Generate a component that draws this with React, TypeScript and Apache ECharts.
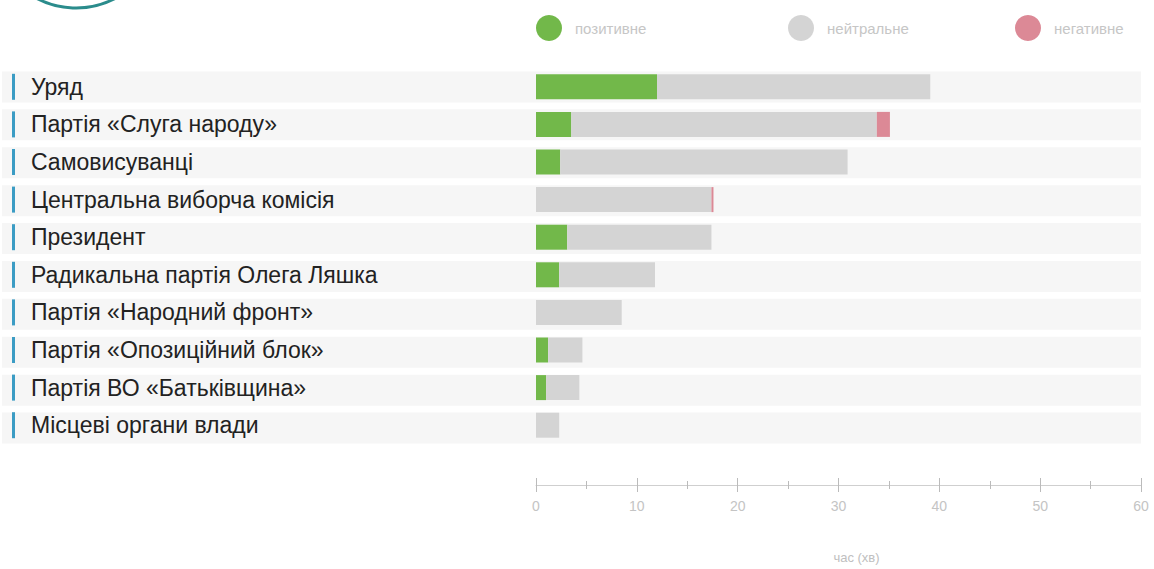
import React, { useEffect, useRef } from "react";
import * as echarts from "echarts";

const categories: string[] = [
  "Уряд",
  "Партія «Слуга народу»",
  "Самовисуванці",
  "Центральна виборча комісія",
  "Президент",
  "Радикальна партія Олега Ляшка",
  "Партія «Народний фронт»",
  "Партія «Опозиційний блок»",
  "Партія ВО «Батьківщина»",
  "Місцеві органи влади",
];

const positive: number[] = [12.0, 3.5, 2.4, 0, 3.1, 2.3, 0, 1.2, 1.0, 0];
const neutral: number[] = [27.1, 30.3, 28.5, 17.4, 14.3, 9.5, 8.5, 3.4, 3.3, 2.3];
const negative: number[] = [0, 1.3, 0, 0.2, 0, 0, 0, 0, 0, 0];
const bandValues: number[] = [1, 1, 1, 1, 1, 1, 1, 1, 1, 1];

const seriesNames: string[] = ["позитивне", "нейтральне", "негативне"];
const colors: string[] = ["#72b84a", "#d4d4d4", "#dc8996"];

const axisMin = 0;
const axisMax = 60;
const axisInterval = 10;
const axisName = "час (хв)";

export default function App() {
  const ref = useRef<HTMLDivElement>(null);

  useEffect(() => {
    if (!ref.current) return;
    const chart = echarts.init(ref.current, null, { renderer: "svg" });
    const font = "Liberation Sans, Arial, sans-serif";
    const legendBase = {
      top: 15,
      padding: 0,
      icon: "circle",
      itemWidth: 26,
      itemHeight: 26,
      itemGap: 0,
      selectedMode: false,
      textStyle: { color: "#c6c6c6", fontSize: 15, fontFamily: font, padding: [0, 0, 0, 8] },
    };
    const xBase = {
      type: "value",
      gridIndex: 0,
      position: "bottom",
      min: axisMin,
      max: axisMax,
      interval: axisInterval,
      offset: 41,
      splitLine: { show: false },
    };
    chart.setOption({
      animation: false,
      backgroundColor: "#ffffff",
      textStyle: { fontFamily: font },
      graphic: [
        {
          type: "circle",
          shape: { cx: 76, cy: -77, r: 85 },
          style: { fill: "none", stroke: "#2b8c8c", lineWidth: 3 },
        },
      ],
      legend: [
        { ...legendBase, left: 536, data: [seriesNames[0]] },
        { ...legendBase, left: 788, data: [seriesNames[1]] },
        { ...legendBase, left: 1015, data: [seriesNames[2]] },
      ],
      grid: [
        { left: 536, right: 13, top: 68, bottom: 122 },
        { left: 2, right: 13, top: 68, bottom: 122 },
      ],
      xAxis: [
        {
          ...xBase,
          axisLine: { show: true, lineStyle: { color: "#cfcfcf", width: 1 } },
          axisTick: { show: true, length: 7, lineStyle: { color: "#bbbbbb" } },
          minorTick: { show: true, splitNumber: 2, length: 4, lineStyle: { color: "#bbbbbb" } },
          axisLabel: { color: "#c4c4c4", fontSize: 14, margin: 14, fontFamily: font },
          name: axisName,
          nameLocation: "middle",
          nameGap: 66,
          nameTextStyle: { color: "#c0c0c0", fontSize: 13, fontFamily: font, padding: [0, 0, 0, 36] },
        },
        {
          ...xBase,
          axisLine: { show: false },
          axisTick: { show: true, inside: true, length: 7, lineStyle: { color: "#bbbbbb" } },
          minorTick: { show: true, splitNumber: 2, length: 4, lineStyle: { color: "#bbbbbb" } },
          axisLabel: { show: false },
        },
        {
          type: "value",
          gridIndex: 1,
          min: 0,
          max: 1,
          show: false,
        },
      ],
      yAxis: [
        {
          type: "category",
          gridIndex: 0,
          inverse: true,
          data: categories,
          axisLine: { show: false },
          axisTick: { show: false },
          axisLabel: {
            align: "left",
            margin: 524,
            formatter: (v: string) => `{m|}{t|${v}}`,
            rich: {
              m: { width: 3, height: 26, backgroundColor: "#3b9cc4" },
              t: { fontSize: 23, color: "#222222", fontFamily: font, padding: [0, 0, 0, 16] },
            },
          },
        },
        {
          type: "category",
          gridIndex: 1,
          inverse: true,
          data: categories,
          show: false,
        },
      ],
      series: [
        {
          name: "bg",
          type: "bar",
          xAxisIndex: 2,
          yAxisIndex: 1,
          data: bandValues,
          barWidth: 31,
          itemStyle: { color: "#f6f6f6" },
          silent: true,
          z: 0,
        },
        ...seriesNames.map((name, i) => ({
          name,
          type: "bar",
          stack: "total",
          xAxisIndex: 0,
          yAxisIndex: 0,
          barWidth: 25,
          data: [positive, neutral, negative][i],
          itemStyle: { color: colors[i] },
          z: 2,
        })),
      ],
    });
    return () => chart.dispose();
  }, []);

  return (
    <div
      ref={ref}
      style={{ position: "fixed", left: 0, top: 0, width: 1154, height: 569 }}
    />
  );
}
